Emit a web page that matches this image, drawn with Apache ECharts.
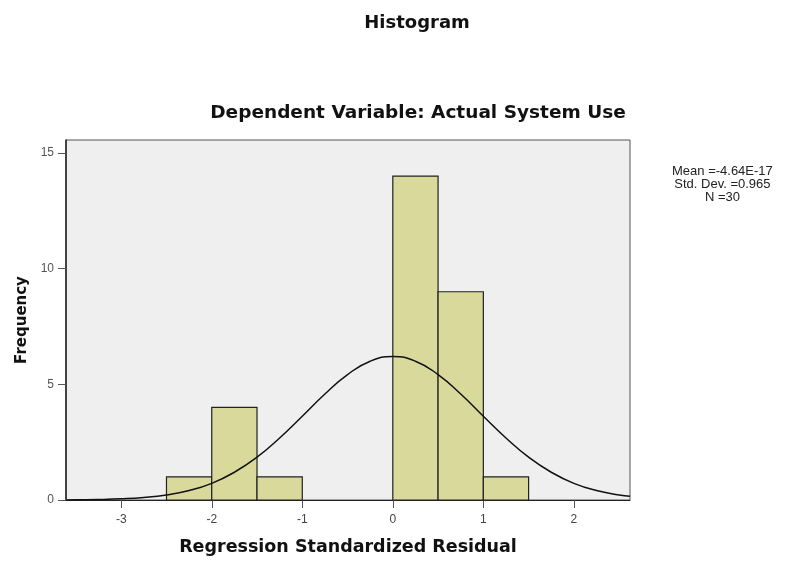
<!DOCTYPE html>
<html>
<head>
<meta charset="utf-8">
<script src="https://cdn.jsdelivr.net/npm/echarts@6/dist/echarts.min.js"></script>
<style>
html,body{margin:0;padding:0;background:#fff;}
#chart{width:787px;height:561px;}
</style>
</head>
<body>
<div id="chart"></div>
<script>
// Histogram bins (lower edge, upper edge) and frequencies
var binStart = [-2.5, -2.0, -1.5, 0.0, 0.5, 1.0];
var binEnd   = [-2.0, -1.5, -1.0, 0.5, 1.0, 1.5];
var counts   = [1, 4, 1, 14, 9, 1];

// Normal curve points
var curveX = [-3.6, -3.5, -3.25, -3.0, -2.75, -2.5, -2.25, -2.0, -1.75, -1.5, -1.25, -1.0, -0.75, -0.5, -0.25, 0.0, 0.25, 0.5, 0.75, 1.0, 1.25, 1.5, 1.75, 2.0, 2.25, 2.5, 2.62];
var curveY = [0.005, 0.009, 0.02, 0.05, 0.11, 0.22, 0.41, 0.72, 1.20, 1.85, 2.68, 3.62, 4.58, 5.42, 6.00, 6.20, 6.00, 5.42, 4.58, 3.62, 2.68, 1.85, 1.20, 0.72, 0.41, 0.22, 0.16];

var xTicks = [-3, -2, -1, 0, 1, 2];
var yTicks = [0, 5, 10, 15];
var statsLines = ['Mean =-4.64E-17', 'Std. Dev. =0.965', 'N =30'];

var barData = binStart.map(function (s, i) { return [s, binEnd[i], counts[i]]; });
var lineData = curveX.map(function (x, i) { return [x, curveY[i]]; });

var chart = echarts.init(document.getElementById('chart'));
var font = '"Liberation Sans", Arial, sans-serif';
var boldFont = '"DejaVu Sans", sans-serif';

chart.setOption({
  backgroundColor: '#ffffff',
  animation: false,
  title: [
    { text: 'Histogram', left: 412, top: 9, textAlign: 'center',
      textStyle: { fontFamily: boldFont, fontSize: 18, fontWeight: 'bold', color: '#111' } },
    { text: 'Dependent Variable: Actual System Use', left: 413, top: 99, textAlign: 'center',
      textStyle: { fontFamily: boldFont, fontSize: 18.5, fontWeight: 'bold', color: '#111' } }
  ],
  grid: { left: 66, right: 157, top: 140, bottom: 61, show: true,
          backgroundColor: '#efefef', borderColor: '#555', borderWidth: 1 },
  xAxis: {
    type: 'value', min: -3.61, max: 2.62,
    name: 'Regression Standardized Residual', nameLocation: 'middle', nameGap: 38,
    nameTextStyle: { fontFamily: boldFont, fontSize: 17.5, fontWeight: 'bold', color: '#111' },
    axisLine: { onZero: false, lineStyle: { color: '#222', width: 1 } },
    axisTick: { show: true, length: 8, customValues: xTicks, lineStyle: { color: '#555' } },
    axisLabel: { customValues: xTicks, fontFamily: font, fontSize: 12, color: '#444', margin: 14 },
    splitLine: { show: false }
  },
  yAxis: {
    type: 'value', min: 0, max: 15.56,
    name: 'Frequency', nameLocation: 'middle', nameGap: 36, nameRotate: 90,
    nameTextStyle: { fontFamily: boldFont, fontSize: 15, fontWeight: 'bold', color: '#111' },
    axisLine: { show: true, onZero: false, lineStyle: { color: '#222', width: 1.5 } },
    axisTick: { show: true, length: 8, customValues: yTicks, lineStyle: { color: '#555' } },
    axisLabel: { customValues: yTicks, fontFamily: font, fontSize: 12, color: '#555', margin: 12 },
    splitLine: { show: false }
  },
  graphic: [
    { type: 'group', left: 672, top: 165, children: statsLines.map(function (t, i) {
        return { type: 'text', x: 54, y: i * 13,
          style: { text: t, fontFamily: font, fontSize: 13, fill: '#222', align: 'center' } };
      }) }
  ],
  series: [
    {
      type: 'custom',
      data: barData,
      encode: { x: [0, 1], y: 2 },
      renderItem: function (params, api) {
        var p0 = api.coord([api.value(0), api.value(2)]);
        var p1 = api.coord([api.value(1), 0]);
        return {
          type: 'rect',
          shape: { x: p0[0], y: p0[1], width: p1[0] - p0[0], height: p1[1] - p0[1] },
          style: { fill: '#d9d99c', stroke: '#222', lineWidth: 1.2 }
        };
      },
      z: 2
    },
    {
      type: 'line',
      data: lineData,
      smooth: true,
      showSymbol: false,
      lineStyle: { color: '#111', width: 1.5 },
      z: 3
    }
  ]
});
</script>
</body>
</html>
